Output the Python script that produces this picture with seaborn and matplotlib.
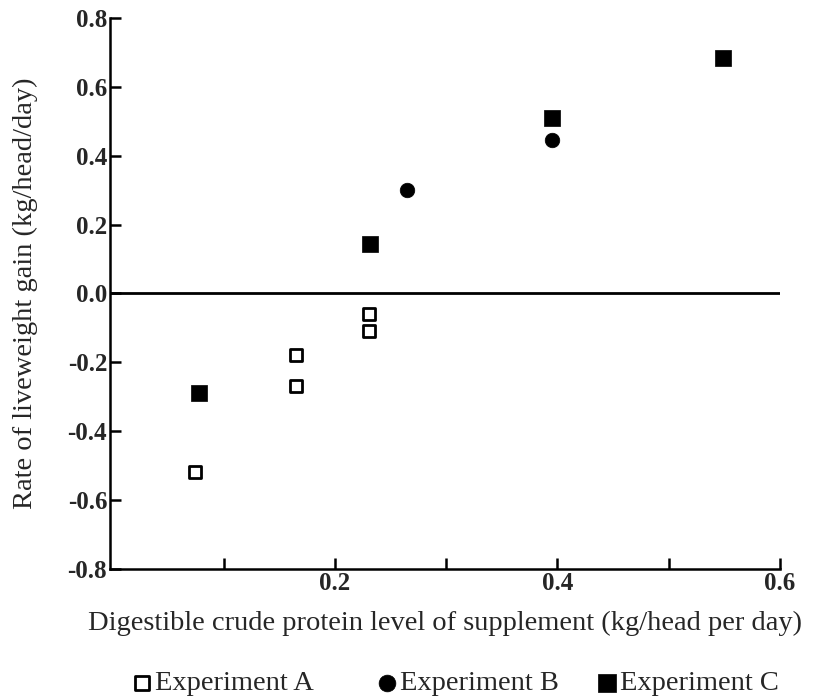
import matplotlib
matplotlib.use('Agg')
from matplotlib import pyplot as plt
from matplotlib.ticker import FixedLocator, FixedFormatter
import pandas as pd
import seaborn as sns

# protein level (kg/head/day) and liveweight gain (kg/head/day) per experiment
exp_a_x = [0.074, 0.165, 0.165, 0.231, 0.231]
exp_a_y = [-0.52, -0.18, -0.27, -0.06, -0.11]
exp_b_x = [0.265, 0.395]
exp_b_y = [0.30, 0.445]
exp_c_x = [0.078, 0.232, 0.395, 0.549]
exp_c_y = [-0.29, 0.145, 0.51, 0.685]

x_ticks = [0.1, 0.2, 0.3, 0.4, 0.5, 0.6]
x_tick_labels = ['', '0.2', '', '0.4', '', '0.6']
y_ticks = [-0.8, -0.6, -0.4, -0.2, 0.0, 0.2, 0.4, 0.6, 0.8]

df_a = pd.DataFrame({'x': exp_a_x, 'y': exp_a_y})
df_b = pd.DataFrame({'x': exp_b_x, 'y': exp_b_y})
df_c = pd.DataFrame({'x': exp_c_x, 'y': exp_c_y})

sns.set_style('ticks')
plt.rcParams['font.family'] = ['Liberation Serif', 'DejaVu Serif']
plt.rcParams['axes.unicode_minus'] = False

fig = plt.figure(figsize=(8.21, 6.97), dpi=100)
ax = fig.add_axes([0.134, 0.184, 0.816, 0.79])

# zero line
ax.axhline(0, xmin=0, xmax=1, color='black', lw=2, zorder=1)

sns.scatterplot(data=df_a, x='x', y='y', marker='s', s=85, facecolor='white',
                edgecolor='black', linewidth=2, label='Experiment A', ax=ax, zorder=3)
sns.scatterplot(data=df_b, x='x', y='y', marker='o', s=110, color='black',
                edgecolor='black', linewidth=0.5, label='Experiment B', ax=ax, zorder=3)
sns.scatterplot(data=df_c, x='x', y='y', marker='s', s=125, color='black',
                edgecolor='black', linewidth=0.5, label='Experiment C', ax=ax, zorder=3)

ax.set_xlim(-0.002, 0.6)
ax.set_ylim(-0.8, 0.8)
ax.xaxis.set_major_locator(FixedLocator(x_ticks))
ax.xaxis.set_major_formatter(FixedFormatter(x_tick_labels))
ax.yaxis.set_major_locator(FixedLocator(y_ticks))
ax.yaxis.set_major_formatter(matplotlib.ticker.FuncFormatter(lambda v, p: f'{v:.1f}'))

ax.tick_params(direction='in', length=8, width=1.8, color='black', labelsize=18, pad=2)
for lab in ax.get_xticklabels() + ax.get_yticklabels():
    lab.set_fontweight('bold')

sns.despine(ax=ax)
for side in ['left', 'bottom']:
    ax.spines[side].set_linewidth(1.8)
    ax.spines[side].set_color('black')

ax.set_xlabel('Digestible crude protein level of supplement (kg/head per day)', fontsize=20.5, labelpad=12)
ax.set_ylabel('Rate of liveweight gain (kg/head/day)', fontsize=20.5, labelpad=21)

# one legend per experiment, placed like the printed key
handles, labels = ax.get_legend_handles_labels()
ax.get_legend().remove()
for h, lab, x0 in zip(handles, labels, [0.163, 0.461, 0.729]):
    fig.legend([h], [lab], loc='center left', bbox_to_anchor=(x0, 0.02),
               frameon=False, fontsize=20.5, handlelength=0.6, handletextpad=0.15,
               borderpad=0, borderaxespad=0, markerscale=1.15)

fig.savefig('out.png', dpi=100)
